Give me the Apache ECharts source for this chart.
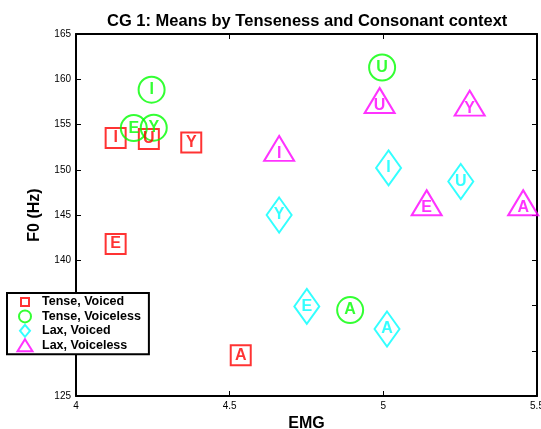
<!DOCTYPE html>
<html>
<head>
<meta charset="utf-8">
<script src="https://cdn.jsdelivr.net/npm/echarts@6/dist/echarts.min.js"></script>
<style>
html,body{margin:0;padding:0;background:#fff;}
#chart{width:541px;height:429px;}
</style>
</head>
<body>
<div id="chart"></div>
<script>
// ---- data ----
const categories = ['Tense, Voiced', 'Tense, Voiceless', 'Lax, Voiced', 'Lax, Voiceless'];
const seriesColors = ['#ff0000', '#00ff00', '#00ffff', '#ff00ff'];

const tvLabels = ['I', 'U', 'Y', 'E', 'A'];
const tvX = [4.129, 4.237, 4.375, 4.129, 4.536];
const tvY = [153.5, 153.4, 153.0, 141.8, 129.5];

const tlLabels = ['I', 'E', 'Y', 'U', 'A'];
const tlX = [4.246, 4.188, 4.253, 4.996, 4.892];
const tlY = [158.85, 154.6, 154.65, 161.3, 134.5];

const lvLabels = ['Y', 'I', 'U', 'E', 'A'];
const lvX = [4.661, 5.017, 5.252, 4.751, 5.012];
const lvY = [145.0, 150.2, 148.7, 134.9, 132.4];

const llLabels = ['I', 'U', 'Y', 'E', 'A'];
const llX = [4.661, 4.988, 5.281, 5.141, 5.455];
const llY = [151.8, 157.1, 156.8, 145.8, 145.8];

const xMin = 4, xMax = 5.5, xStep = 0.5;
const yMin = 125, yMax = 165, yStep = 5;

const titleText = 'CG 1: Means by Tenseness and Consonant context';
const xName = 'EMG';
const yName = 'F0 (Hz)';

// ---- build ----
function pts(xs, ys, ls) { return xs.map((x, i) => [x, ys[i], ls[i]]); }
const groups = [
  pts(tvX, tvY, tvLabels),
  pts(tlX, tlY, tlLabels),
  pts(lvX, lvY, lvLabels),
  pts(llX, llY, llLabels)
];
const symbols = ['rect', 'circle', 'diamond', 'triangle'];
const sizes = [[20, 20], [26, 26], [25, 35], [30, 25]];
const symOffsets = [[0, 0], [0, 0], [0, 0], [0, -5]];
const labOffsets = [[0, 0], [0, 0], [0, 0], [0, 5]];
const legendIcons = [
  'path://M0,0M24,12M8,2h8v8h-8z',
  'path://M0,0M24,12M6,6A6,6 0 1 1 18,6A6,6 0 1 1 6,6Z',
  'path://M0,0M24,12M12,0L17,6L12,12L7,6Z',
  'path://M0,0M24,12M12,0L19.5,12L4.5,12Z'
];
const FONT = 'Liberation Sans, Arial, sans-serif';

const series = groups.map((data, i) => ({
  name: categories[i],
  type: 'scatter',
  data: data,
  symbol: symbols[i],
  symbolSize: sizes[i],
  symbolOffset: symOffsets[i],
  itemStyle: { color: 'rgba(0,0,0,0)', borderColor: seriesColors[i], borderWidth: 2 },
  label: {
    show: true, position: 'inside', offset: labOffsets[i],
    formatter: p => p.data[2],
    color: seriesColors[i], fontWeight: 'bold', fontSize: 16, fontFamily: FONT
  },
  emphasis: { disabled: true },
  xAxisIndex: 0, yAxisIndex: 0
}));

const axisCommon = {
  axisLine: { show: true, onZero: false, lineStyle: { color: '#000', width: 2 } },
  axisTick: { show: true, inside: true, length: 5, lineStyle: { color: '#000', width: 1 } },
  splitLine: { show: false }
};

const option = {
  animation: false,
  backgroundColor: '#fff',
  title: {
    text: titleText, left: 107, top: 12.5, padding: 0,
    textStyle: { fontSize: 16.5, fontWeight: 'bold', fontFamily: FONT, color: '#000' }
  },
  legend: {
    orient: 'vertical', left: 7, top: 293,
    padding: [2, 8, 2, 5],
    itemWidth: 24, itemHeight: 12, itemGap: 0.4,
    backgroundColor: '#fff', borderColor: '#000', borderWidth: 2, borderRadius: 0,
    textStyle: { fontSize: 12.5, fontWeight: 'bold', fontFamily: FONT, color: '#000', lineHeight: 14 },
    selectedMode: false,
    data: categories.map((c, i) => ({
      name: c, icon: legendIcons[i],
      itemStyle: { color: 'rgba(0,0,0,0)', borderColor: seriesColors[i], borderWidth: 2 }
    }))
  },
  grid: { left: 76, right: 4, top: 34, bottom: 33, containLabel: false, outerBoundsMode: 'none' },
  xAxis: [
    Object.assign({
      type: 'value', min: xMin, max: xMax, interval: xStep, position: 'bottom',
      name: xName, nameLocation: 'middle', nameGap: 12.5,
      nameTextStyle: { fontSize: 16, fontWeight: 'bold', fontFamily: FONT, color: '#000' },
      axisLabel: { fontSize: 10, fontFamily: FONT, color: '#000', margin: 5 }
    }, axisCommon),
    Object.assign({
      type: 'value', min: xMin, max: xMax, interval: xStep, position: 'top',
      axisLabel: { show: false }
    }, axisCommon)
  ],
  yAxis: [
    Object.assign({
      type: 'value', min: yMin, max: yMax, interval: yStep, position: 'left',
      name: yName, nameLocation: 'middle', nameGap: 33,
      nameTextStyle: { fontSize: 16, fontWeight: 'bold', fontFamily: FONT, color: '#000' },
      axisLabel: { fontSize: 10, fontFamily: FONT, color: '#000', margin: 5 }
    }, axisCommon),
    Object.assign({
      type: 'value', min: yMin, max: yMax, interval: yStep, position: 'right',
      axisLabel: { show: false }
    }, axisCommon)
  ],
  series: series
};

const chart = echarts.init(document.getElementById('chart'), null, { renderer: 'canvas' });
chart.setOption(option);
</script>
</body>
</html>
